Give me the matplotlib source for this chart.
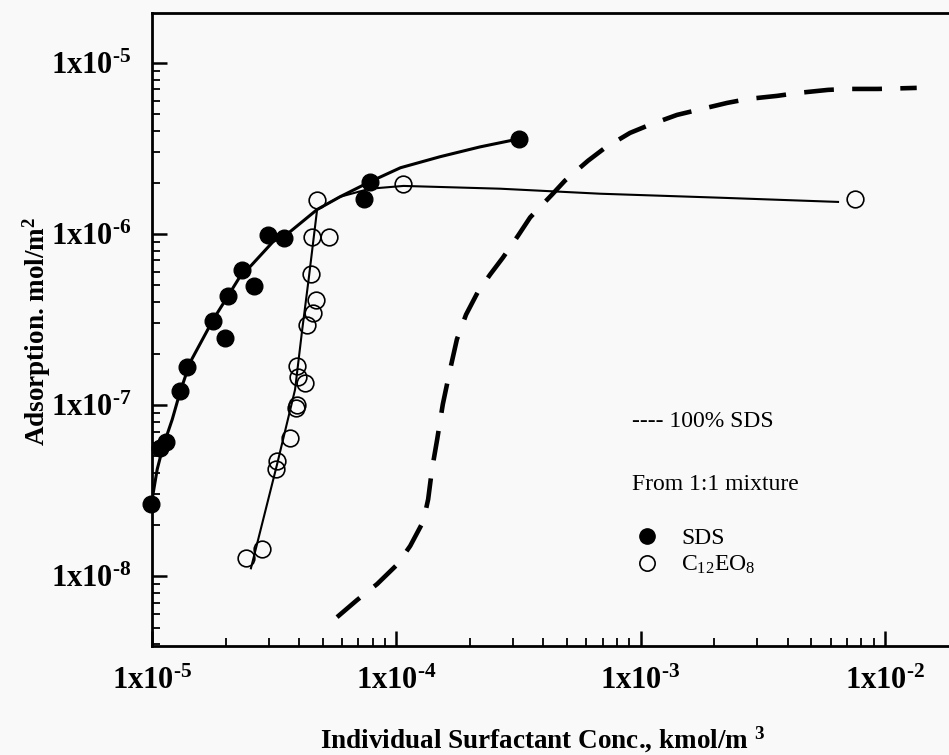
import numpy as np
import matplotlib.pyplot as plt
from matplotlib.ticker import LogLocator, FuncFormatter, NullFormatter
from matplotlib.lines import Line2D

# SDS adsorbed from the 1:1 mixture (filled symbols)
sds_conc = [9.9e-6, 1.08e-5, 1.14e-5, 1.30e-5, 1.39e-5, 1.78e-5, 1.99e-5, 2.05e-5,
            2.34e-5, 2.62e-5, 2.98e-5, 3.47e-5, 7.38e-5, 7.80e-5, 3.18e-4]
sds_ads = [2.63e-8, 5.58e-8, 6.05e-8, 1.20e-7, 1.66e-7, 3.12e-7, 2.48e-7, 4.36e-7,
           6.19e-7, 4.99e-7, 9.9e-7, 9.5e-7, 1.61e-6, 2.02e-6, 3.60e-6]

# C12EO8 adsorbed from the 1:1 mixture (open symbols)
c12_conc = [4.72e-5, 4.50e-5, 5.30e-5, 4.47e-5, 4.69e-5, 4.57e-5, 4.30e-5, 3.91e-5,
            3.97e-5, 4.23e-5, 3.91e-5, 3.87e-5, 3.67e-5, 3.26e-5, 3.21e-5, 2.42e-5,
            2.81e-5, 1.07e-4, 7.54e-3]
c12_ads = [1.58e-6, 9.6e-7, 9.6e-7, 5.86e-7, 4.13e-7, 3.46e-7, 2.95e-7, 1.69e-7,
           1.46e-7, 1.35e-7, 9.95e-8, 9.64e-8, 6.44e-8, 4.70e-8, 4.25e-8, 1.28e-8,
           1.44e-8, 1.96e-6, 1.60e-6]

# smooth curves drawn through the data
sds_fit_conc = [9.9e-6, 1.05e-5, 1.11e-5, 1.21e-5, 1.30e-5, 1.43e-5, 1.78e-5, 2.05e-5,
                2.29e-5, 2.52e-5, 3.13e-5, 3.67e-5, 4.74e-5, 5.88e-5, 7.80e-5, 1.04e-4,
                1.51e-4, 2.20e-4, 3.18e-4]
sds_fit_ads = [2.56e-8, 4.21e-8, 5.73e-8, 8.24e-8, 1.18e-7, 1.77e-7, 3.16e-7, 4.36e-7,
               5.63e-7, 6.44e-7, 9.02e-7, 1.03e-6, 1.39e-6, 1.65e-6, 2.02e-6, 2.44e-6,
               2.83e-6, 3.23e-6, 3.60e-6]

c12_fit_conc = [2.54e-5, 3.25e-5, 3.85e-5, 4.11e-5, 4.39e-5, 4.74e-5, 5.88e-5, 7.80e-5,
                1.07e-4, 2.66e-4, 6.82e-4, 2.11e-3, 6.43e-3]
c12_fit_ads = [1.11e-8, 4.50e-8, 1.23e-7, 2.69e-7, 5.63e-7, 1.39e-6, 1.65e-6, 1.84e-6,
               1.91e-6, 1.84e-6, 1.72e-6, 1.63e-6, 1.54e-6]

# pure SDS isotherm (dashed)
pure_conc = [5.72e-5, 6.90e-5, 8.34e-5, 1.01e-4, 1.14e-4, 1.29e-4, 1.35e-4, 1.40e-4,
             1.47e-4, 1.55e-4, 1.66e-4, 1.77e-4, 1.93e-4, 2.16e-4, 2.42e-4, 2.73e-4,
             3.15e-4, 3.53e-4, 4.34e-4, 4.90e-4, 6.09e-4, 7.15e-4, 9.05e-4, 1.09e-3,
             1.41e-3, 1.72e-3, 2.26e-3, 2.75e-3, 3.62e-3, 4.41e-3, 5.85e-3, 7.06e-3,
             9.37e-3, 1.35e-2]
pure_ads = [5.75e-9, 7.23e-9, 8.97e-9, 1.17e-8, 1.50e-8, 2.09e-8, 2.81e-8, 4.21e-8,
            6.30e-8, 1.01e-7, 1.61e-7, 2.42e-7, 3.38e-7, 4.60e-7, 5.79e-7, 7.27e-7,
            9.77e-7, 1.25e-6, 1.70e-6, 2.05e-6, 2.68e-6, 3.19e-6, 3.90e-6, 4.35e-6,
            4.97e-6, 5.32e-6, 5.84e-6, 6.16e-6, 6.42e-6, 6.68e-6, 6.96e-6, 7.05e-6,
            7.05e-6, 7.15e-6]

plt.rcParams['font.family'] = 'Liberation Serif'
plt.rcParams['font.weight'] = 'bold'
plt.rcParams['mathtext.fontset'] = 'custom'
plt.rcParams['mathtext.rm'] = 'Liberation Serif:normal'
plt.rcParams['mathtext.bf'] = 'Liberation Serif:bold'
plt.rcParams['mathtext.it'] = 'Liberation Serif:italic'
plt.rcParams['mathtext.default'] = 'rm'

bg = '#f9f9f9'
fig = plt.figure(figsize=(9.49, 7.55), dpi=100, facecolor=bg)
ax = fig.add_axes([0.1602, 0.1444, 0.8398, 0.8384])
ax.set_facecolor(bg)
ax.set_xscale('log')
ax.set_yscale('log')
ax.set_xlim(1e-5, 1.83e-2)
ax.set_ylim(3.9e-9, 1.96e-5)

ax.plot(sds_fit_conc, sds_fit_ads, color='k', lw=2.2, zorder=2)
ax.plot(c12_fit_conc, c12_fit_ads, color='k', lw=1.5, zorder=2)
ax.plot(pure_conc, pure_ads, color='k', lw=3.3, linestyle=(0, (6.5, 4)), zorder=2)
ax.plot(sds_conc, sds_ads, 'o', ms=12, mfc='k', mec='k', clip_on=False, zorder=3)
ax.plot(c12_conc, c12_ads, 'o', ms=12, mfc='none', mec='k', mew=1.2, clip_on=False, zorder=3)

# axes frame and ticks
ax.spines['right'].set_visible(False)
for side in ['left', 'bottom', 'top']:
    ax.spines[side].set_linewidth(2)

def sci_label(v, pos):
    # plain hyphen in the exponent
    exp = int(round(np.log10(v)))
    return r'1x10$^{\mathbf{%s%d}}$' % ('\u2010' if exp < 0 else '', abs(exp))

for axis in [ax.xaxis, ax.yaxis]:
    axis.set_major_locator(LogLocator(base=10))
    axis.set_minor_locator(LogLocator(base=10, subs=np.arange(2, 10)))
    axis.set_major_formatter(FuncFormatter(sci_label))
    axis.set_minor_formatter(NullFormatter())

ax.tick_params(which='major', direction='in', length=11, width=1.8, labelsize=22,
               top=False, right=False)
ax.tick_params(which='minor', direction='in', length=6, width=1.3, top=False, right=False)
ax.tick_params(axis='x', which='major', pad=15)
ax.tick_params(axis='y', which='major', pad=15)

fig.text(543 / 949, 1 - 740 / 755, r'Individual Surfactant Conc., kmol/m $^{\mathbf{3}}$',
         ha='center', va='center', fontsize=19.5, fontweight='bold')
fig.text(37 / 949, 1 - 331 / 755, r'Adsorption. mol/m$^{\mathbf{2}}$', rotation=90,
         ha='center', va='center', fontsize=19.5, fontweight='bold')

# key
fig.text(632 / 949, 1 - 422 / 755, '---- 100% SDS', va='center', fontsize=17,
         fontweight='normal')
fig.text(632 / 949, 1 - 485 / 755, 'From 1:1 mixture', va='center', fontsize=17,
         fontweight='normal')
handles = [Line2D([], [], ls='none', marker='o', ms=11, mfc='k', mec='k'),
           Line2D([], [], ls='none', marker='o', ms=11, mfc='none', mec='k', mew=1.2)]
fig.legend(handles, ['SDS', r'C$_{12}$EO$_{8}$'], loc='center left',
           bbox_to_anchor=(635 / 949, 1 - 552 / 755), frameon=False,
           prop={'size': 17, 'weight': 'normal'}, handlelength=1.0, handletextpad=0.95,
           borderpad=0, borderaxespad=0, labelspacing=0.2)

fig.savefig('out.png', dpi=100, facecolor=bg)
